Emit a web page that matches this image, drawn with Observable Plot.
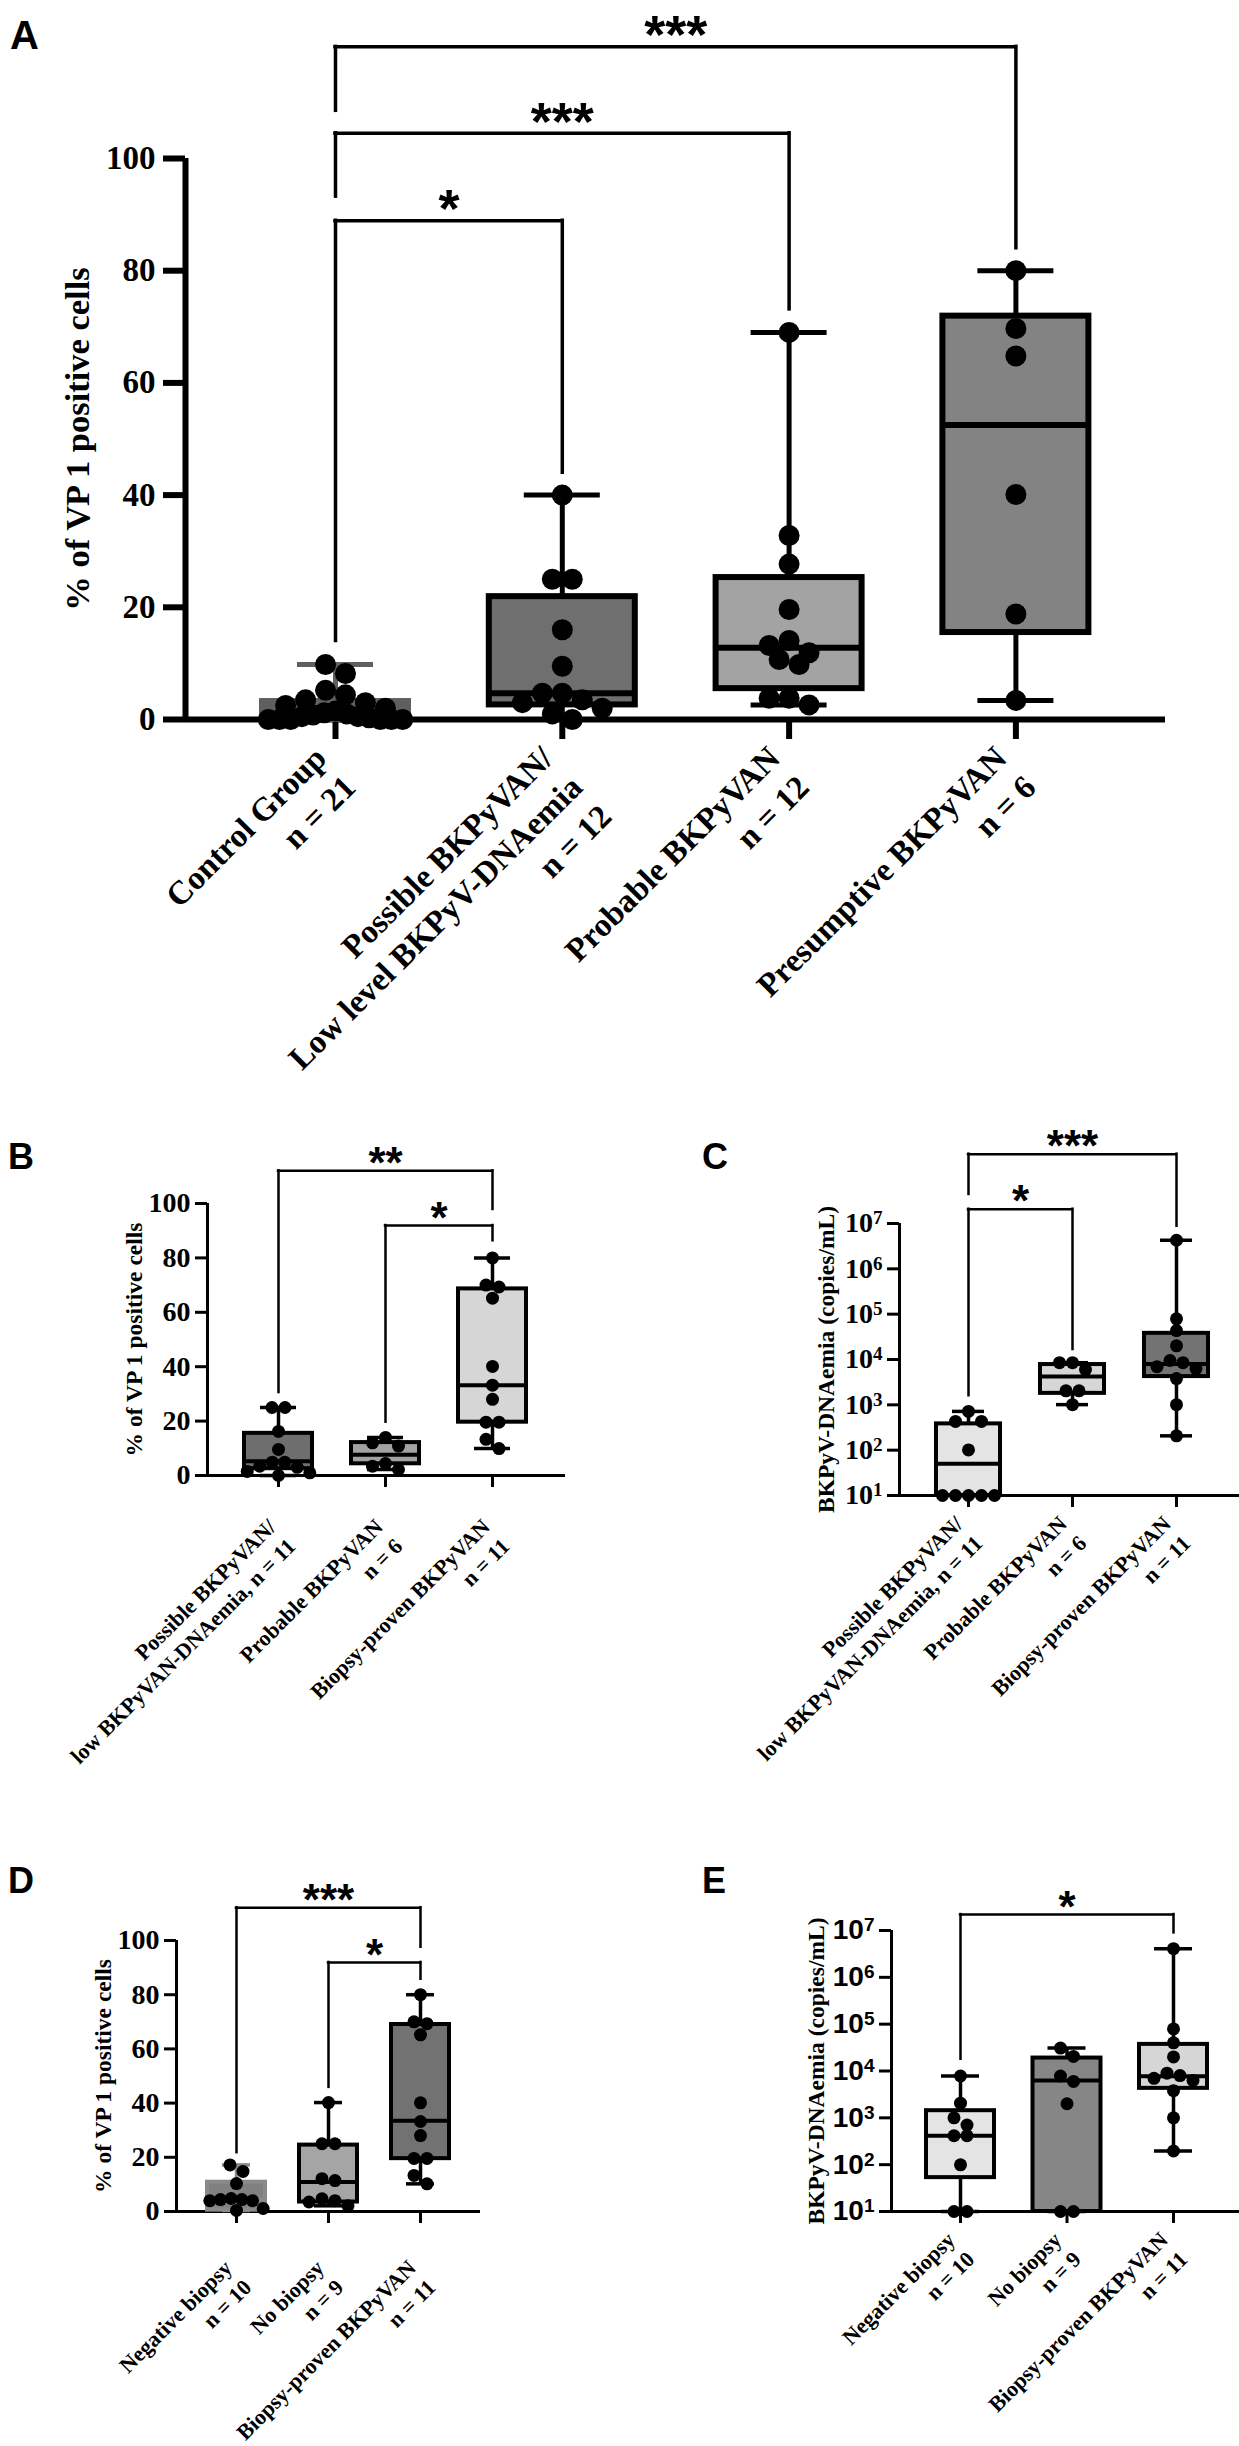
<!DOCTYPE html>
<html><head><meta charset="utf-8">
<script src="https://cdn.jsdelivr.net/npm/d3@7"></script>
<script src="https://cdn.jsdelivr.net/npm/@observablehq/plot@0.6"></script>
<style>
html,body{margin:0;padding:0;background:#fff;}
#root{position:relative;width:1239px;height:2446px;overflow:hidden;background:#fff;}
.plab{position:absolute;font-family:'Liberation Sans',Arial,sans-serif;font-weight:bold;line-height:1;color:#000;}
.pl{position:absolute;}
.pl svg{display:block;}
</style></head><body><div id="root"></div>
<script>
// ---------------- Panel A : % of VP1 positive cells ----------------
const catsA = ["Control Group\nn = 21", "Possible BKPyVAN/\nLow level BKPyV-DNAemia\nn = 12", "Probable BKPyVAN\nn = 12", "Presumptive BKPyVAN\nn = 6"];
const controlA = [9.8, 8.2, 5.2, 4.4, 3.5, 3.0, 2.5, 2.0, 1.5, 1.2, 1.0, 0.8, 0.5, 0.5, 0.3, 0, 0, 0, 0, 0, 0];
const possibleA = [40, 25, 25, 16, 9.5, 4.7, 4.7, 3.5, 3.0, 2.0, 1.0, 0];
const probableA = [69, 32.8, 27.7, 19.6, 14.1, 13.2, 11.9, 10.7, 9.8, 3.8, 3.8, 2.6];
const presumptiveA = [80, 69.7, 64.8, 40.1, 18.8, 3.4];
const q1A = [0, 2.6, 5.5, 15.5];
const medA = [0.8, 4.7, 12.8, 52.5];
const q3A = [3.2, 21.9, 25.3, 71.9];
const minA = [0, 0, 2.6, 3.4];
const maxA = [9.8, 40, 69, 80];
const sigA = [
  {a: 0, b: 1, y: 88.9, ya: 14, yb: 44, t: "*"},
  {a: 0, b: 2, y: 104.5, ya: 93.2, yb: 73.1, t: "***"},
  {a: 0, b: 3, y: 119.9, ya: 108.5, yb: 84, t: "***"}
];
const ticksPct = [0, 20, 40, 60, 80, 100];

// ---------------- Panel B ----------------
const catsB = ["Possible BKPyVAN/\nlow BKPyVAN-DNAemia, n = 11", "Probable BKPyVAN\nn = 6", "Biopsy-proven BKPyVAN\nn = 11"];
const possibleB = [25, 25, 16.2, 9.6, 4.9, 4.9, 3.4, 3.0, 1.5, 1.0, 0];
const probableB = [14, 12, 10.8, 4.4, 3.4, 2.2];
const provenB = [80, 70, 69.3, 65.2, 40.1, 33.2, 28, 19.6, 19.6, 13.3, 9.9];
const q1B = [2.5, 4.3, 19.6];
const medB = [5.2, 7.6, 33.2];
const q3B = [15.5, 12.1, 68.6];
const minB = [0, 2.2, 9.9];
const maxB = [25, 14, 80];
const sigB = [
  {a: 0, b: 2, y: 112, ya: 30.5, yb: 97.8, t: "**"},
  {a: 1, b: 2, y: 91.9, ya: 19.6, yb: 86.3, t: "*"}
];

// ---------------- Panel C : BKPyV-DNAemia ----------------
const catsC = ["Possible BKPyVAN/\nlow BKPyVAN-DNAemia, n = 11", "Probable BKPyVAN\nn = 6", "Biopsy-proven BKPyVAN\nn = 11"];
const possibleC = [716, 430, 430, 101, 10, 10, 10, 10, 10];
const probableC = [8500, 8500, 6000, 2040, 2040, 1010];
const provenC = [4.27e6, 79000, 43500, 20000, 9500, 8500, 6960, 6300, 3800, 1010, 207];
const q1C = [10, 1790, 4200];
const medC = [50, 4200, 8000];
const q3C = [380, 7740, 37800];
const minC = [10, 1010, 207];
const maxC = [716, 8500, 4.27e6];
const sigC = [
  {a: 0, b: 1, y: 2.07e7, ya: 1585, yb: 16600, t: "*"},
  {a: 0, b: 2, y: 3.39e8, ya: 4.37e7, yb: 8.7e6, t: "***"}
];
const ticksLog = [1e1, 1e2, 1e3, 1e4, 1e5, 1e6, 1e7];

// ---------------- Panel D ----------------
const catsD = ["Negative biopsy\nn = 10", "No biopsy\nn = 9", "Biopsy-proven BKPyVAN\nn = 11"];
const negativeD = [17.2, 14.8, 10.3, 4.8, 4.4, 4.4, 4.0, 4.0, 1.1, 0.4];
const noBiopsyD = [40.2, 25, 25, 12.1, 11.4, 4.7, 4.0, 3.5, 2.1];
const provenD = [80, 70, 69.3, 65.2, 40.1, 33.2, 28, 19.6, 19.6, 13.3, 10.2];
const q1D = [0.5, 3.5, 19.5];
const medD = [4.4, 10.9, 33.5];
const q3D = [10.8, 24.5, 69];
const minD = [0.4, 2.1, 10.2];
const maxD = [17.2, 40.2, 80];
const sigD = [
  {a: 0, b: 2, y: 112.1, ya: 21.7, yb: 97.5, t: "***"},
  {a: 1, b: 2, y: 91.9, ya: 45.8, yb: 85.7, t: "*"}
];

// ---------------- Panel E ----------------
const catsE = ["Negative biopsy\nn = 10", "No biopsy\nn = 9", "Biopsy-proven BKPyVAN\nn = 11"];
const negativeE = [7830, 2060, 1000, 700, 414, 414, 99, 10, 10];
const noBiopsyE = [30900, 20500, 7830, 6000, 2000, 10, 10];
const provenE = [4.1e6, 79000, 40000, 20000, 9000, 8000, 6960, 6300, 3800, 1000, 196];
const q1E = [52.9, 10, 4260];
const medE = [414, 6300, 7700];
const q3E = [1420, 18900, 37000];
const minE = [10, 10, 196];
const maxE = [7830, 30900, 4.1e6];
const sigE = [
  {a: 0, b: 2, y: 2.19e7, ya: 17800, yb: 8.9e6, t: "*"}
];

// ---------------- drawing ----------------
const SERIF = "'Liberation Serif', 'Times New Roman', serif";
const SANS = "'Liberation Sans', Arial, sans-serif";
const SUP = {1: "\u00b9", 2: "\u00b2", 3: "\u00b3", 4: "\u2074", 5: "\u2075", 6: "\u2076", 7: "\u2077"};
const fmtLog = d => "10" + SUP[Math.round(Math.log10(d))];
const root = document.getElementById("root");

// GraphPad-like scatter: points with similar values spread symmetrically in a row
function spread(vals, toPx, minD, maxW) {
  const order = vals.map((v, i) => i).sort((i, j) => vals[j] - vals[i]);
  const off = new Array(vals.length).fill(0);
  let row = [], startY = null;
  const flush = () => {
    const n = row.length;
    const s = n > 1 ? Math.min(minD, maxW / (n - 1)) : 0;
    const pos = d3.range(n).map(k => (k - (n - 1) / 2) * s);
    pos.sort((a, b) => Math.abs(a) - Math.abs(b) || a - b);
    row.forEach((idx, k) => off[idx] = pos[k]);
    row = [];
  };
  for (const i of order) {
    const y = toPx(vals[i]);
    if (row.length && Math.abs(startY - y) > minD * 0.9) flush();
    if (!row.length) startY = y;
    row.push(i);
  }
  flush();
  return off;
}

// turn "10⁴"-style tick labels into "10" + a raised, smaller exponent
function raiseExponents(svg) {
  const back = {};
  Object.entries(SUP).forEach(([k, v]) => back[v] = k);
  svg.querySelectorAll('g[aria-label="y-axis tick label"] text').forEach(t => {
    const s = t.textContent;
    if (s.length < 3 || !back[s.slice(2)]) return;
    t.textContent = "10";
    const ts = document.createElementNS("http://www.w3.org/2000/svg", "tspan");
    ts.setAttribute("dy", "-0.42em");
    ts.setAttribute("font-size", "0.68em");
    ts.textContent = back[s.slice(2)];
    t.appendChild(ts);
  });
}

function panel(c, cats, groups, q1, med, q3, lo, hi, sig) {
  const mL = c.yAxisX - c.left, mR = c.left + c.width - c.xRight;
  const mT = c.yTopPx - c.top, mB = c.top + c.height - c.yBotPx;
  const xd = [(c.yAxisX - c.cat0X) / c.step, (c.xRight - c.cat0X) / c.step];
  const H = c.yBotPx - c.yTopPx;
  const toPx = c.log
    ? v => Math.log10(v) / Math.log10(c.domain[1] / c.domain[0]) * H
    : v => v / (c.domain[1] - c.domain[0]) * H;
  const dots = [];
  groups.forEach((arr, g) => {
    const off = spread(arr, toPx, 2 * c.r * c.sep, 2 * c.boxHalf * 0.92);
    arr.forEach((v, i) => dots.push({x: g + off[i] / c.step, y: v}));
  });
  const boxes = cats.map((name, g) => ({g, q1: q1[g], med: med[g], q3: q3[g], lo: lo[g], hi: hi[g], fill: c.fills[g], stroke: c.strokes[g]}));
  const bh = c.boxHalf / c.step, ch = c.capHalf / c.step;
  const base = c.domain[0];
  const labels = cats.map((t, i) => ({i, t}));
  const svg = Plot.plot({
    width: c.width, height: c.height,
    marginLeft: mL, marginRight: mR, marginTop: mT, marginBottom: mB,
    x: {type: "linear", domain: xd, label: null},
    y: {type: c.log ? "log" : "linear", domain: c.domain, label: null},
    color: {type: "identity"},
    style: {background: "transparent", overflow: "visible", fontFamily: SERIF, fontWeight: "bold", color: "#000"},
    marks: [
      Plot.axisY({ticks: c.ticks, tickFormat: c.tickFmt, tickSize: c.tickSize, tickPadding: c.tickPad,
        strokeWidth: c.axisW, fontSize: c.tickFs, fontFamily: c.tickFont, fontWeight: "bold", label: null}),
      Plot.axisX({ticks: cats.map((_, i) => i), tickSize: c.xTickSize, strokeWidth: c.axisW,
        tickFormat: () => "", label: null}),
      Plot.ruleX([xd[0]], {y1: c.domain[0], y2: c.domain[1], strokeWidth: c.axisW}),
      Plot.ruleY([base], {strokeWidth: c.axisW}),
      // whiskers and caps
      Plot.ruleX(boxes, {x: "g", y1: "lo", y2: "q1", stroke: "stroke", strokeWidth: c.whiskW}),
      Plot.ruleX(boxes, {x: "g", y1: "q3", y2: "hi", stroke: "stroke", strokeWidth: c.whiskW}),
      Plot.ruleY(boxes, {y: "hi", x1: d => d.g - ch, x2: d => d.g + ch, stroke: "stroke", strokeWidth: c.whiskW}),
      Plot.ruleY(boxes, {y: "lo", x1: d => d.g - ch, x2: d => d.g + ch, stroke: "stroke", strokeWidth: c.whiskW}),
      // boxes and medians
      Plot.rect(boxes, {x1: d => d.g - bh, x2: d => d.g + bh, y1: "q1", y2: "q3", fill: "fill", stroke: "stroke", strokeWidth: c.boxW}),
      Plot.ruleY(boxes, {y: "med", x1: d => d.g - bh, x2: d => d.g + bh, stroke: "stroke", strokeWidth: c.boxW}),
      // individual values
      Plot.dot(dots, {x: "x", y: "y", r: c.r, fill: "#000", stroke: "none"}),
      // significance brackets
      Plot.ruleY(sig, {y: "y", x1: "a", x2: "b", strokeWidth: c.brW, strokeLinecap: "square"}),
      Plot.ruleX(sig, {x: "a", y1: "ya", y2: "y", strokeWidth: c.brW, strokeLinecap: "square"}),
      Plot.ruleX(sig, {x: "b", y1: "yb", y2: "y", strokeWidth: c.brW, strokeLinecap: "square"}),
      Plot.text(sig, {x: d => (d.a + d.b) / 2, y: "y", text: "t", dy: c.starDy, fontSize: c.starFs, fontFamily: SANS, fontWeight: "bold"}),
      // category labels
      Plot.text(labels, {x: "i", y: () => base, text: "t", rotate: -45, textAnchor: "end", lineAnchor: "top",
        lineHeight: 1.25, dx: c.labDx, dy: c.labDy, fontSize: c.labFs, fontFamily: SERIF, fontWeight: "bold"}),
      // y title
      Plot.text([c.title], {frameAnchor: "left", text: d => d, dx: c.titleX - c.yAxisX, rotate: -90,
        textAnchor: "middle", lineAnchor: "middle", fontSize: c.titleFs, fontFamily: SERIF, fontWeight: "bold"})
    ]
  });
  if (c.log) raiseExponents(svg);
  const div = document.createElement("div");
  div.className = "pl";
  div.style.left = c.left + "px";
  div.style.top = c.top + "px";
  div.style.width = c.width + "px";
  div.style.height = c.height + "px";
  div.appendChild(svg);
  root.appendChild(div);
}

function letter(t, left, capTop, fs) {
  const d = document.createElement("div");
  d.className = "plab";
  d.textContent = t;
  d.style.left = left + "px";
  d.style.top = (capTop - 0.13 * fs) + "px";
  d.style.fontSize = fs + "px";
  root.appendChild(d);
}

const pct = "% of VP 1 positive cells";
const dna = "BKPyV-DNAemia (copies/mL)";
const small = {tickSize: 12, tickPad: 5, tickFs: 28, axisW: 3, xTickSize: 12, titleFs: 23.5, r: 6.5, sep: 1,
  boxW: 4, whiskW: 3.5, brW: 2.5, starFs: 44, starDy: -7, labFs: 22, tickFont: SERIF};

panel({left: 0, top: 0, width: 1239, height: 1130, yAxisX: 185, xRight: 1165, cat0X: 335, step: 226.8,
  yTopPx: 158, yBotPx: 719, log: false, domain: [0, 100], ticks: ticksPct, tickFmt: d => d, tickFont: SERIF,
  tickSize: 22, tickPad: 8, tickFs: 33, axisW: 6, xTickSize: 20, titleX: 77, titleFs: 34.5, title: pct,
  r: 10.5, sep: 0.95, boxHalf: 73, capHalf: 38, boxW: 6, whiskW: 5, brW: 3.5, starFs: 54, starDy: -11,
  labFs: 33, labDx: -28, labDy: 20,
  fills: ["#5f5f5f", "#6f6f6f", "#a3a3a3", "#838383"], strokes: ["#5f5f5f", "#000", "#000", "#000"]},
  catsA, [controlA, possibleA, probableA, presumptiveA], q1A, medA, q3A, minA, maxA, sigA);

panel({...small, left: 0, top: 1120, width: 620, height: 680, yAxisX: 207, xRight: 565, cat0X: 278, step: 107,
  yTopPx: 1203, yBotPx: 1475, log: false, domain: [0, 100], ticks: ticksPct, tickFmt: d => d,
  titleX: 134, title: pct, boxHalf: 34, capHalf: 18, labDx: -15, labDy: 39,
  fills: ["#6e6e6e", "#a2a2a2", "#d6d6d6"], strokes: ["#000", "#000", "#000"]},
  catsB, [possibleB, probableB, provenB], q1B, medB, q3B, minB, maxB, sigB);

panel({...small, left: 620, top: 1120, width: 619, height: 680, yAxisX: 899, xRight: 1239, cat0X: 968, step: 104,
  yTopPx: 1223, yBotPx: 1495, log: true, domain: [10, 1e7], ticks: ticksLog, tickFmt: fmtLog,
  titleX: 826, title: dna, boxHalf: 32, capHalf: 16, labDx: -18, labDy: 16,
  fills: ["#e4e4e4", "#d6d6d6", "#737373"], strokes: ["#000", "#000", "#000"]},
  catsC, [possibleC, probableC, provenC], q1C, medC, q3C, minC, maxC, sigC);

panel({...small, left: 0, top: 1790, width: 620, height: 656, yAxisX: 176, xRight: 480, cat0X: 236, step: 92,
  yTopPx: 1940, yBotPx: 2211, log: false, domain: [0, 100], ticks: ticksPct, tickFmt: d => d,
  titleX: 103, title: pct, boxHalf: 29, capHalf: 14, labDx: -17, labDy: 44,
  fills: ["#808080", "#a5a5a5", "#727272"], strokes: ["#8a8a8a", "#000", "#000"]},
  catsD, [negativeD, noBiopsyD, provenD], q1D, medD, q3D, minD, maxD, sigD);

panel({...small, left: 620, top: 1790, width: 619, height: 656, yAxisX: 891, xRight: 1239, cat0X: 960, step: 106.5,
  yTopPx: 1930, yBotPx: 2211, log: true, domain: [10, 1e7], ticks: ticksLog, tickFmt: fmtLog, tickFont: SANS,
  titleX: 816, title: dna, boxHalf: 34, capHalf: 19, labDx: -18, labDy: 16,
  fills: ["#e4e4e4", "#868686", "#d6d6d6"], strokes: ["#000", "#000", "#000"]},
  catsE, [negativeE, noBiopsyE, provenE], q1E, medE, q3E, minE, maxE, sigE);

letter("A", 10, 20, 40);
letter("B", 8, 1144, 36);
letter("C", 702, 1144, 36);
letter("D", 8, 1868, 36);
letter("E", 702, 1868, 36);
</script></body></html>
